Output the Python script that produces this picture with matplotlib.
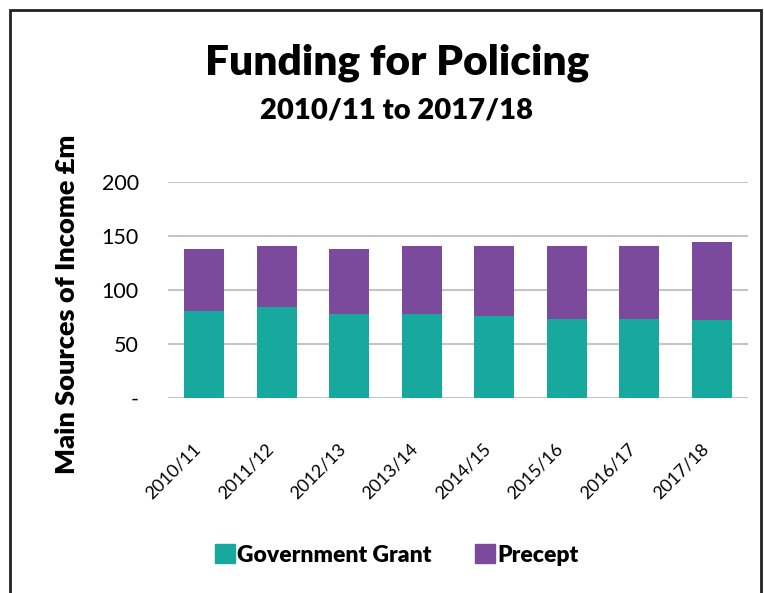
import matplotlib
matplotlib.use("Agg")
import matplotlib.pyplot as plt
import matplotlib.transforms as mtransforms
from matplotlib.patches import Patch, Rectangle

years = ["2010/11", "2011/12", "2012/13", "2013/14", "2014/15", "2015/16", "2016/17", "2017/18"]
grant = [81, 84, 78, 78, 76, 73, 73, 72]
precept = [57, 57, 60, 63, 65, 68, 68, 72]
yticks = [0, 50, 100, 150, 200]
ytick_labels = ["-", "50", "100", "150", "200"]

GREEN, PURPLE = "#17a99d", "#7b4a9c"
FONT = "Lato"

fig = plt.figure(figsize=(7.64, 5.93), dpi=100)
# outer frame (open at the bottom, as in the source crop)
fig.patches.append(Rectangle((10 / 764, -0.05), 751 / 764, 1.05 - 10 / 593, transform=fig.transFigure,
                             fill=False, edgecolor="#222222", linewidth=2))

ax = fig.add_axes([168 / 764, 1 - 398 / 593, 580 / 764, 216 / 593])
x = range(len(years))
ax.bar(x, grant, width=0.55, color=GREEN, zorder=3)
ax.bar(x, precept, width=0.55, bottom=grant, color=PURPLE, zorder=3)

ax.set_ylim(0, 200)
ax.set_xlim(-0.5, len(years) - 0.5)
ax.set_yticks(yticks)
ax.set_yticklabels(ytick_labels, fontsize=15.5, family=FONT)
ax.grid(axis="y", color="#c4c4c4", linewidth=1.5, zorder=0)
ax.tick_params(length=0)
ax.tick_params(axis="y", pad=21)
ax.set_xticks(list(x))
ax.set_xticklabels(years, rotation=45, ha="right", va="center", rotation_mode="anchor",
                   fontsize=13, family=FONT)
ax.tick_params(axis="x", pad=35)
shift = mtransforms.ScaledTranslation(-6 / 100, 0, fig.dpi_scale_trans)
for lab in ax.get_xticklabels():
    lab.set_transform(lab.get_transform() + shift)
for s in ax.spines.values():
    s.set_visible(False)

fig.text(397 / 764, 1 - 63 / 593, "Funding for Policing", ha="center", va="center",
         fontsize=30.5, fontweight="heavy", family=FONT)
fig.text(397 / 764, 1 - 110 / 593, "2010/11 to 2017/18", ha="center", va="center",
         fontsize=21, fontweight="heavy", family=FONT)
fig.text(67 / 764, 1 - 304 / 593, "Main Sources of Income £m", rotation=90, ha="center", va="center",
         fontsize=19.5, fontweight="heavy", family=FONT)

handles = [Patch(color=GREEN, label="Government Grant"), Patch(color=PURPLE, label="Precept")]
fig.legend(handles=handles, loc="center", bbox_to_anchor=(397 / 764, 1 - 555 / 593), ncol=2,
           frameon=False, handlelength=0.85, handleheight=0.85, handletextpad=0.12, columnspacing=1.9,
           prop={"family": FONT, "weight": "heavy", "size": 16.5})

fig.savefig("out.png", dpi=100)
